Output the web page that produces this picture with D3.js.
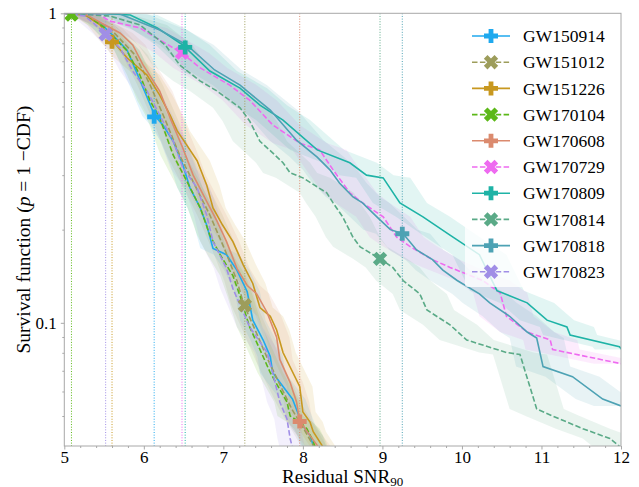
<!DOCTYPE html>
<html><head><meta charset="utf-8">
<script src="https://cdn.jsdelivr.net/npm/d3@7"></script>
<style>
body{margin:0;background:#fff}
svg{display:block}
</style>
</head><body>
<svg id="chart" width="639" height="487"></svg>
<script>
// ---------------- data ----------------
const events = ["GW150914","GW151012","GW151226","GW170104","GW170608","GW170729","GW170809","GW170814","GW170818","GW170823"];
const eventColors = ["#1fa9ee","#9d9d5b","#c8981f","#5cb818","#db8a6e","#ee6af0","#1eb3a6","#5aaa87","#4da2b4","#a08ee6"];
const eventDashed = [false,true,false,true,false,true,false,true,false,true];
const eventSNR = [6.13,7.27,5.60,5.09,7.96,6.48,6.52,8.97,9.25,5.52];
const markerP  = [0.463,0.114,0.809,0.99,0.048,0.746,0.776,0.161,0.194,0.855];
const bandHalfWidth = [0.16,0.16,0.16,0.16,0.16,0.34,0.34,0.34,0.34,0.16];

const sf_GW150914 = [[5,1],[5.26,0.987],[5.45,0.93],[5.61,0.85],[5.79,0.76],[5.95,0.609],[6.14,0.466],[6.24,0.436],[6.37,0.386],[6.49,0.324],[6.58,0.273],[6.71,0.235],[6.79,0.207],[6.87,0.174],[7.04,0.166],[7.17,0.148],[7.30,0.126],[7.37,0.102],[7.50,0.088],[7.59,0.0778],[7.62,0.069],[7.75,0.0623],[7.87,0.0567],[8.00,0.0465],[8.09,0.0432],[8.13,0.0402],[8.16,0.039]];
const sf_GW151012 = [[5,1],[5.26,0.987],[5.57,0.897],[5.89,0.733],[6.08,0.586],[6.27,0.452],[6.45,0.348],[6.64,0.279],[6.83,0.223],[7.02,0.172],[7.17,0.137],[7.26,0.114],[7.40,0.0948],[7.56,0.0761],[7.71,0.0632],[7.86,0.0527],[8.02,0.045],[8.13,0.0402],[8.16,0.039]];
const sf_GW151226 = [[5,1],[5.26,0.987],[5.45,0.917],[5.61,0.814],[5.79,0.717],[6.04,0.632],[6.20,0.544],[6.33,0.469],[6.42,0.417],[6.54,0.375],[6.67,0.334],[6.79,0.279],[6.87,0.235],[6.99,0.207],[7.12,0.183],[7.25,0.154],[7.37,0.134],[7.46,0.112],[7.59,0.105],[7.67,0.0948],[7.75,0.0802],[7.96,0.0623],[8.00,0.0515],[8.09,0.0478],[8.13,0.0445],[8.24,0.0402],[8.27,0.039]];
const sf_GW170104 = [[5,1],[5.26,0.995],[5.51,0.897],[5.79,0.756],[5.95,0.632],[6.08,0.521],[6.20,0.459],[6.37,0.348],[6.54,0.287],[6.71,0.235],[6.83,0.192],[6.96,0.166],[7.12,0.142],[7.21,0.122],[7.33,0.097],[7.46,0.082],[7.59,0.069],[7.71,0.0609],[7.80,0.0555],[7.84,0.050],[7.96,0.0478],[8.05,0.0455],[8.13,0.0414],[8.16,0.0393]];
const sf_GW170608 = [[5,1],[5.26,0.995],[5.51,0.917],[5.70,0.864],[5.86,0.79],[5.99,0.681],[6.20,0.561],[6.33,0.459],[6.49,0.367],[6.62,0.30],[6.79,0.247],[6.92,0.213],[7.04,0.183],[7.17,0.150],[7.30,0.132],[7.42,0.124],[7.55,0.108],[7.67,0.0899],[7.71,0.0761],[7.84,0.0641],[7.92,0.0555],[7.96,0.0482],[8.09,0.0432],[8.18,0.0402],[8.21,0.039]];
const sf_GW170729 = [[5,1],[5.45,0.987],[5.57,0.944],[5.95,0.897],[6.20,0.82],[6.48,0.744],[6.71,0.666],[7.08,0.586],[7.33,0.524],[7.62,0.436],[7.96,0.381],[8.21,0.362],[8.38,0.312],[8.59,0.263],[8.75,0.244],[9.01,0.220],[9.18,0.189],[9.34,0.177],[9.63,0.160],[9.85,0.151],[10.26,0.137],[10.48,0.125],[10.56,0.105],[10.82,0.0934],[11.11,0.088],[11.14,0.082],[12.0,0.0738]];
const sf_GW170809 = [[5,1],[5.45,1],[5.83,0.987],[6.17,0.897],[6.49,0.79],[6.83,0.651],[7.21,0.573],[7.46,0.505],[7.75,0.452],[8.18,0.362],[8.59,0.329],[8.80,0.30],[9.01,0.294],[9.22,0.244],[9.51,0.220],[9.85,0.192],[10.22,0.166],[10.44,0.127],[10.82,0.116],[11.07,0.102],[11.32,0.097],[11.36,0.0913],[11.98,0.0837],[12.01,0.082]];
const sf_GW170814 = [[5,1],[5.57,0.98],[5.95,0.917],[6.27,0.79],[6.45,0.681],[6.71,0.604],[6.92,0.561],[7.21,0.495],[7.33,0.449],[7.46,0.386],[7.62,0.354],[7.75,0.329],[7.84,0.305],[8.00,0.294],[8.18,0.275],[8.30,0.263],[8.38,0.244],[8.50,0.220],[8.63,0.189],[8.72,0.176],[8.97,0.161],[9.13,0.151],[9.26,0.137],[9.47,0.124],[9.56,0.110],[9.85,0.0985],[10.06,0.088],[10.56,0.0802],[10.73,0.079],[10.94,0.0527],[11.14,0.050],[11.52,0.0455],[11.86,0.0423],[11.98,0.0399]];
const sf_GW170818 = [[5,1],[5.70,0.995],[6.20,0.883],[6.54,0.79],[6.89,0.656],[7.21,0.586],[7.33,0.552],[7.59,0.487],[7.92,0.389],[8.18,0.343],[8.34,0.312],[8.46,0.283],[8.63,0.255],[8.75,0.244],[8.93,0.220],[9.10,0.200],[9.26,0.194],[9.43,0.172],[9.63,0.160],[9.76,0.148],[9.94,0.137],[10.22,0.124],[10.35,0.116],[10.60,0.105],[10.82,0.0934],[10.94,0.0893],[11.02,0.0722],[11.39,0.067],[11.77,0.0567],[12.0,0.0539]];
const sf_GW170823 = [[5,1],[5.26,0.98],[5.51,0.864],[5.70,0.773],[5.86,0.651],[6.04,0.561],[6.20,0.469],[6.37,0.386],[6.49,0.317],[6.67,0.273],[6.79,0.223],[6.87,0.183],[7.04,0.150],[7.12,0.129],[7.33,0.097],[7.55,0.0802],[7.62,0.069],[7.71,0.0555],[7.80,0.0489],[7.84,0.0423],[7.87,0.0393]];
const survival = [sf_GW150914,sf_GW151012,sf_GW151226,sf_GW170104,sf_GW170608,sf_GW170729,sf_GW170809,sf_GW170814,sf_GW170818,sf_GW170823];

const xTicks = [5,6,7,8,9,10,11,12];
const yTickValues = [1,0.1];
const yTickLabels = ["1","0.1"];
const xDomain = [5,12];
const yDomain = [0.04,1];

// ---------------- layout ----------------
const FONT = "'Liberation Serif', 'Times New Roman', Times, 'DejaVu Serif', serif";
const L = 64.3, R = 621, T = 13.3, B = 446;
const svg = d3.select("#chart").attr("font-family", FONT);
const x = d3.scaleLinear().domain(xDomain).range([L,R]);
const y = d3.scaleLog().domain(yDomain).range([B,T]);

svg.append("defs").append("clipPath").attr("id","plotclip")
  .append("rect").attr("x",L).attr("y",T).attr("width",R-L).attr("height",B-T);

const plot = svg.append("g").attr("clip-path","url(#plotclip)");

// bands
const bandG = plot.append("g");
survival.forEach((pts,i)=>{
  const d = bandHalfWidth[i];
  const upper = pts.map(p=>[x(p[0]+d), y(p[1])]);
  const lower = pts.map(p=>[x(p[0]-d), y(p[1])]).reverse();
  bandG.append("path")
    .attr("d", d3.line()(upper.concat(lower)) + "Z")
    .attr("fill", eventColors[i]).attr("fill-opacity",0.13).attr("stroke","none");
});

// vertical dotted lines
plot.append("g").selectAll("line").data(events).join("line")
  .attr("x1",(e,i)=>x(eventSNR[i])).attr("x2",(e,i)=>x(eventSNR[i]))
  .attr("y1",T).attr("y2",B)
  .attr("stroke",(e,i)=>eventColors[i]).attr("stroke-width",1)
  .attr("stroke-dasharray","1,1.65");

// curves
const line = d3.line().x(p=>x(p[0])).y(p=>y(p[1]));
plot.append("g").selectAll("path").data(survival).join("path")
  .attr("d",line).attr("fill","none")
  .attr("stroke",(p,i)=>eventColors[i]).attr("stroke-width",1.6)
  .attr("stroke-dasharray",(p,i)=>eventDashed[i]?"5.5,2.4":null);

// markers
const s=7, t=2.4;
const plusPath = `M${-t},${-s}L${t},${-s}L${t},${-t}L${s},${-t}L${s},${t}L${t},${t}L${t},${s}L${-t},${s}L${-t},${t}L${-s},${t}L${-s},${-t}L${-t},${-t}Z`;
function markerTransform(i,px,py){ return `translate(${px},${py})` + (eventDashed[i]?" rotate(45) scale(1.08)":""); }
plot.append("g").selectAll("path").data(events).join("path")
  .attr("d",plusPath)
  .attr("transform",(e,i)=>markerTransform(i,x(eventSNR[i]),y(markerP[i])))
  .attr("fill",(e,i)=>eventColors[i]);

// ---------------- axes ----------------
const axisColor = "#a8a8a8";
svg.append("rect").attr("x",L).attr("y",T).attr("width",R-L).attr("height",B-T)
  .attr("fill","none").attr("stroke",axisColor).attr("stroke-width",1);

const xAxis = d3.axisBottom(x).tickValues(xTicks).tickFormat(d3.format("d")).tickSize(3.5).tickPadding(1.5);
const gx = svg.append("g").attr("transform",`translate(0,${B})`).call(xAxis);
gx.attr("font-family",FONT);
gx.select(".domain").remove();
gx.selectAll(".tick line").attr("stroke",axisColor);
gx.selectAll("text").attr("font-size",17).attr("fill","#000");

const xMinor = d3.range(5,12.001,0.2).filter(v=>Math.abs(v-Math.round(v))>1e-6);
const gxm = svg.append("g").attr("transform",`translate(0,${B})`)
  .call(d3.axisBottom(x).tickValues(xMinor).tickFormat("").tickSize(2));
gxm.select(".domain").remove();
gxm.selectAll(".tick line").attr("stroke",axisColor);

const yAxis = d3.axisLeft(y).tickValues(yTickValues).tickFormat((d,i)=>yTickLabels[i]).tickSize(3.5).tickPadding(4);
const gy = svg.append("g").attr("transform",`translate(${L},0)`).call(yAxis);
gy.attr("font-family",FONT);
gy.select(".domain").remove();
gy.selectAll(".tick line").attr("stroke",axisColor);
gy.selectAll("text").attr("font-size",17).attr("fill","#000");

const yMinor = [0.05,0.06,0.07,0.08,0.09,0.2,0.3,0.4,0.5,0.6,0.7,0.8,0.9];
const gym = svg.append("g").attr("transform",`translate(${L},0)`)
  .call(d3.axisLeft(y).tickValues(yMinor).tickFormat("").tickSize(2));
gym.select(".domain").remove();
gym.selectAll(".tick line").attr("stroke",axisColor);

// axis labels
const xl = svg.append("text").attr("x",(L+R)/2).attr("y",482.5).attr("text-anchor","middle")
  .attr("font-size",19).attr("font-family",FONT);
xl.append("tspan").text("Residual SNR");
xl.append("tspan").attr("font-size",13).attr("dy",3).text("90");

const yl = svg.append("text").attr("transform",`translate(30,${(T+B)/2}) rotate(-90)`)
  .attr("text-anchor","middle").attr("font-size",19.5).attr("font-family",FONT);
yl.append("tspan").text("Survival function (");
yl.append("tspan").attr("font-style","italic").text("p");
yl.append("tspan").text(" = 1 \u2212CDF)");

// ---------------- legend ----------------
const lg = svg.append("g");
lg.append("rect").attr("x",465).attr("y",21).attr("width",149).attr("height",266).attr("rx",3)
  .attr("fill","#fff").attr("fill-opacity",0.8);
events.forEach((e,i)=>{
  const cy = 36 + i*26.2;
  lg.append("line").attr("x1",472).attr("x2",510).attr("y1",cy).attr("y2",cy)
    .attr("stroke",eventColors[i]).attr("stroke-width",1.6)
    .attr("stroke-dasharray",eventDashed[i]?"5.5,2.4":null);
  lg.append("path").attr("d",plusPath).attr("transform",markerTransform(i,491,cy)).attr("fill",eventColors[i]);
  lg.append("text").attr("x",523).attr("y",cy).attr("dy","0.35em")
    .attr("font-size",17.5).attr("font-family",FONT).text(e);
});
</script>
</body></html>
